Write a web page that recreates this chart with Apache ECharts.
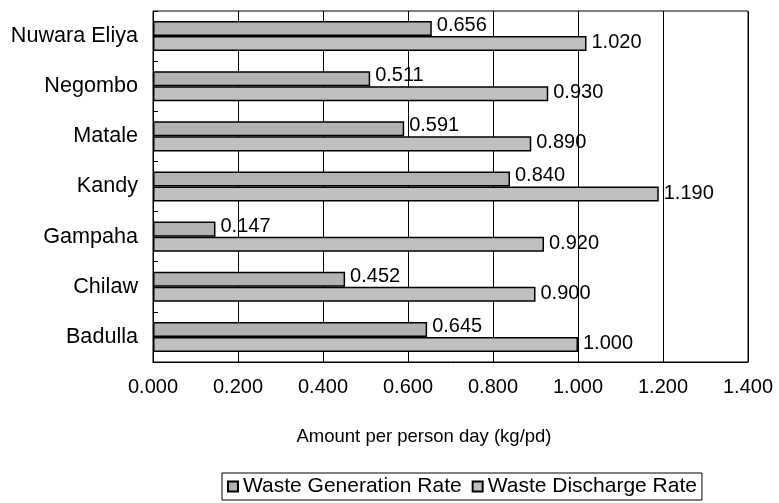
<!DOCTYPE html>
<html>
<head>
<meta charset="utf-8">
<script src="https://cdn.jsdelivr.net/npm/echarts@6/dist/echarts.min.js"></script>
<style>html,body{margin:0;padding:0;background:#fff;}#c{width:779px;height:503px;}</style>
</head>
<body>
<div id="c"></div>
<script>
var categories = ['Nuwara Eliya', 'Negombo', 'Matale', 'Kandy', 'Gampaha', 'Chilaw', 'Badulla'];
var generationRate = [0.656, 0.511, 0.591, 0.840, 0.147, 0.452, 0.645];
var dischargeRate = [1.020, 0.930, 0.890, 1.190, 0.920, 0.900, 1.000];
var seriesNames = ['Waste Generation Rate', 'Waste Discharge Rate'];
var axisTitle = 'Amount per person day (kg/pd)';

var FONT = 'Liberation Sans, Arial, sans-serif';
var chart = echarts.init(document.getElementById('c'), null, {renderer: 'canvas'});
function lbl(dy) {
  return {
    show: true, position: 'right', distance: 5, offset: [0, dy],
    color: '#000', fontFamily: FONT, fontSize: 20,
    formatter: function (p) { return p.value.toFixed(3); }
  };
}
chart.setOption({
  animation: false,
  backgroundColor: '#fff',
  grid: {left: 153, right: 31, top: 11, bottom: 141, show: true, borderColor: '#000', borderWidth: 1, backgroundColor: 'transparent'},
  xAxis: {
    type: 'value', min: 0, max: 1.4, interval: 0.2,
    axisLine: {show: true, lineStyle: {color: '#000', width: 1}},
    axisTick: {show: false},
    splitLine: {show: true, lineStyle: {color: '#000', width: 1}},
    axisLabel: {color: '#000', fontFamily: FONT, fontSize: 20, margin: 15,
      formatter: function (v) { return v.toFixed(3); }}
  },
  yAxis: {
    type: 'category', data: categories, inverse: true,
    axisLine: {show: true, lineStyle: {color: '#000', width: 1}},
    axisTick: {show: true, inside: true, length: 5, lineStyle: {color: '#000'}},
    axisLabel: {color: '#000', fontFamily: FONT, fontSize: 21.6, margin: 15}
  },
  legend: {
    data: seriesNames, bottom: 3, left: 222,
    orient: 'horizontal', itemWidth: 10, itemHeight: 10, itemGap: 10,
    borderColor: '#000', borderWidth: 1, borderRadius: 0, padding: [3, 5],
    textStyle: {color: '#000', fontFamily: FONT, fontSize: 21},
    icon: 'rect'
  },
  graphic: [{
    type: 'text', x: 424, y: 437,
    style: {text: axisTitle, fill: '#000', font: '18.5px ' + FONT, textAlign: 'center', textVerticalAlign: 'middle'}
  }],
  series: [
    {name: seriesNames[0], type: 'bar', data: generationRate, barGap: '0%', barCategoryGap: '40%',
     itemStyle: {color: '#B2B2B2', borderColor: '#000', borderWidth: 1.5}, label: lbl(-3)},
    {name: seriesNames[1], type: 'bar', data: dischargeRate, barGap: '0%', barCategoryGap: '40%',
     itemStyle: {color: '#C0C0C0', borderColor: '#000', borderWidth: 1.5}, label: lbl(-1)}
  ]
});
</script>
</body>
</html>
